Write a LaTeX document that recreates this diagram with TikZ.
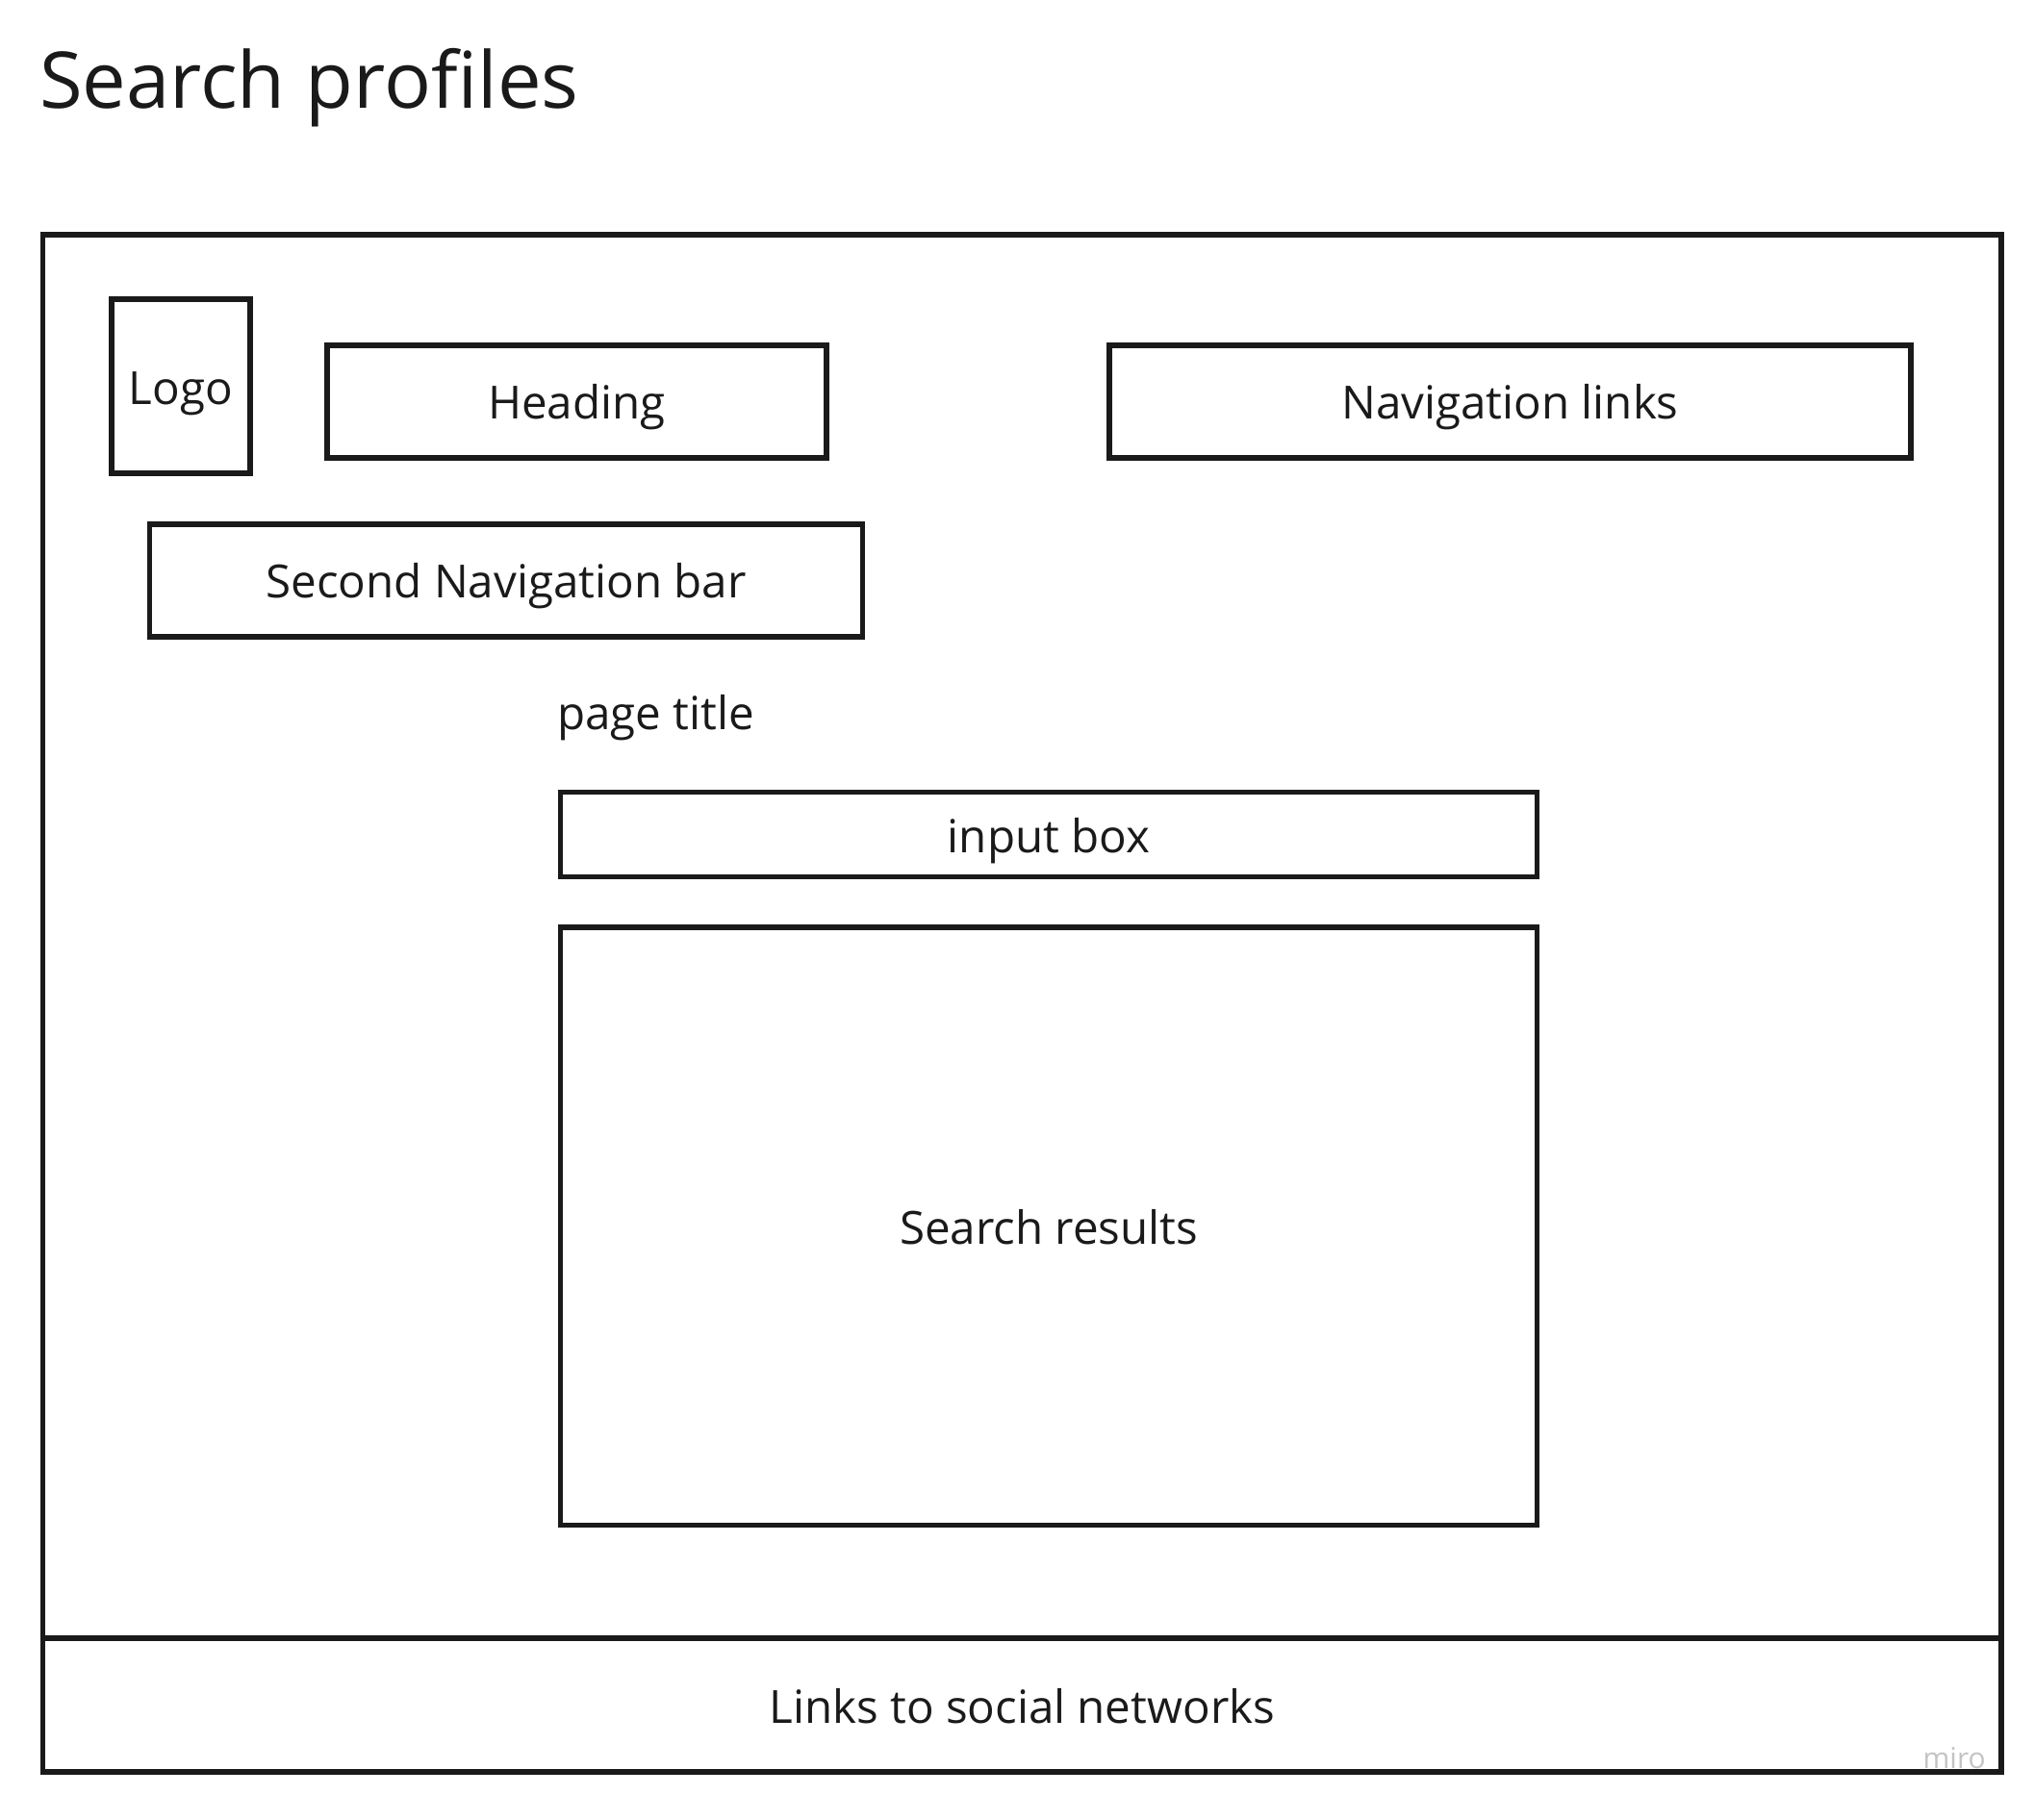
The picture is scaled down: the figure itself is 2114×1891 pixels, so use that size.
\documentclass[tikz,border=0pt]{standalone}
\usepackage{fontspec}
\setmainfont{Open Sans}
\definecolor{ink}{HTML}{1A1A1A}
\definecolor{mark}{HTML}{C4C4C4}
\begin{document}
\begin{tikzpicture}[x=1pt,y=-1pt,
  panel/.style={draw=ink, line width=5.5pt, inner sep=0pt, text=ink,
    font=\fontsize{47.5}{57}\selectfont, text height=37pt, text depth=0pt},
  label/.style={inner sep=0pt, text=ink, font=\fontsize{47.5}{57}\selectfont}]
\useasboundingbox (0,0) rectangle (2114,1891);
% page title
\node[inner sep=0pt, text=ink, anchor=base west, font=\fontsize{81.3}{97}\selectfont]
  (title) at (41,112) {Search profiles};
% page frame and footer
\node[panel, minimum width=2035.5pt, minimum height=1598pt] (page) at (1062.25,1043) {};
\node[panel, minimum width=2035.5pt, minimum height=139pt] (footer) at (1062.25,1772.5) {Links to social networks};
% header elements
\node[panel, minimum width=144pt, minimum height=181pt] (logo) at (188,401.5) {Logo};
\node[panel, minimum width=519pt, minimum height=117pt] (heading) at (599.3,417.3) {Heading};
\node[panel, minimum width=833pt, minimum height=117pt] (navlinks) at (1569.5,417.3) {Navigation links};
\node[panel, minimum width=741pt, minimum height=117pt] (secondnav) at (526,603.3) {Second Navigation bar};
% content
\node[label, anchor=base west] (pagetitle) at (579,758) {page title};
\node[panel, minimum width=1015pt, minimum height=88pt] (input) at (1090,867.5) {input box};
\node[panel, minimum width=1015pt, minimum height=621.5pt] (results) at (1090,1274.8) {Search results};
% watermark
\node[inner sep=0pt, text=mark, anchor=base east, font=\fontsize{30}{36}\selectfont]
  (wm) at (2064,1838) {miro};
\end{tikzpicture}
\end{document}
